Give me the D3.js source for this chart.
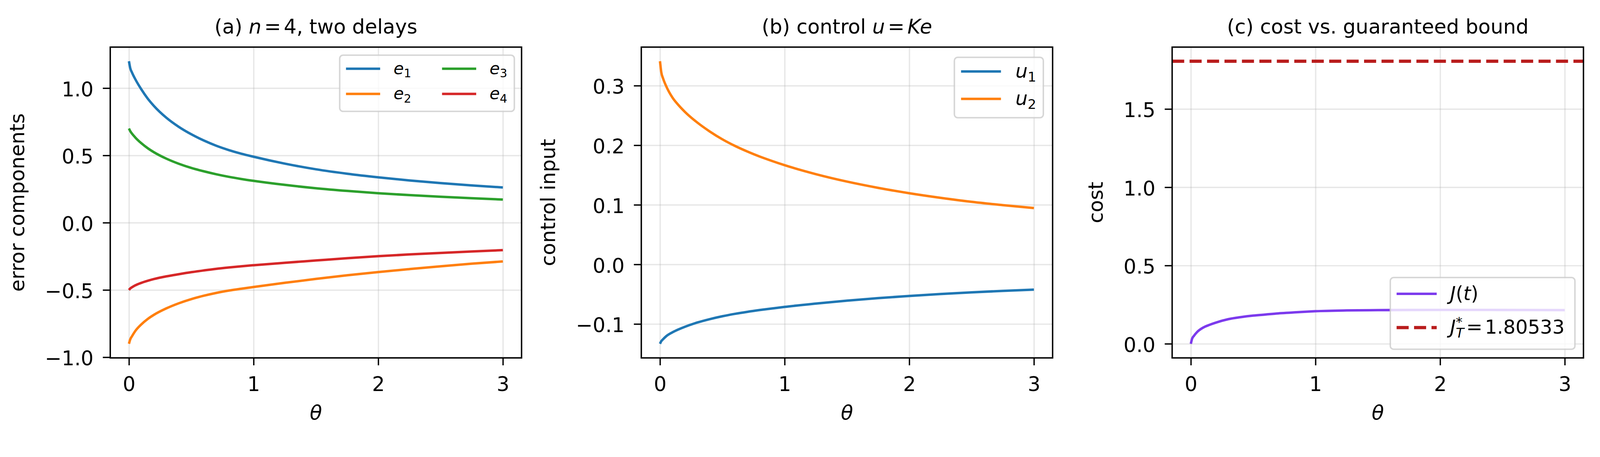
<!DOCTYPE html>
<html>
<head>
<meta charset="utf-8">
<script src="https://cdn.jsdelivr.net/npm/d3@7"></script>
<style>
  html, body { margin: 0; padding: 0; background: #ffffff; overflow: hidden; }
  #chart svg { display: block; width: 100vw; height: calc(100vw * 1171 / 4310); }
  svg text { font-family: 'DejaVu Sans', sans-serif; }
</style>
</head>
<body>
<div id="chart"></div>
<script>
// Data
var theta = [0, 0.01, 0.025, 0.05, 0.1, 0.15, 0.2, 0.3, 0.4, 0.5, 0.6, 0.7, 0.8, 0.9, 1.0, 1.25, 1.5, 1.75, 2.0, 2.25, 2.5, 2.75, 3.0];

var e1 = [1.200, 1.150, 1.115, 1.068, 0.990, 0.923, 0.868, 0.780, 0.712, 0.657, 0.611, 0.572, 0.540, 0.513, 0.490, 0.439, 0.397, 0.364, 0.337, 0.314, 0.294, 0.277, 0.262];
var e2 = [-0.900, -0.868, -0.843, -0.806, -0.755, -0.716, -0.685, -0.637, -0.599, -0.568, -0.543, -0.522, -0.505, -0.491, -0.478, -0.447, -0.418, -0.391, -0.367, -0.345, -0.324, -0.305, -0.288];
var e3 = [0.700, 0.681, 0.661, 0.634, 0.590, 0.554, 0.524, 0.476, 0.438, 0.407, 0.382, 0.360, 0.341, 0.325, 0.311, 0.281, 0.256, 0.236, 0.219, 0.205, 0.193, 0.182, 0.172];
var e4 = [-0.500, -0.489, -0.4795, -0.466, -0.447, -0.432, -0.419, -0.399, -0.383, -0.368, -0.355, -0.343, -0.333, -0.324, -0.316, -0.298, -0.281, -0.264, -0.249, -0.236, -0.225, -0.214, -0.204];

var u1 = [-0.1332, -0.1290, -0.1255, -0.1205, -0.1140, -0.1090, -0.1047, -0.0975, -0.0918, -0.0870, -0.0830, -0.0796, -0.0766, -0.0739, -0.0713, -0.0658, -0.0609, -0.0566, -0.0529, -0.0497, -0.0469, -0.0444, -0.0423];
var u2 = [0.341, 0.323, 0.312, 0.299, 0.280, 0.267, 0.256, 0.238, 0.223, 0.210, 0.199, 0.1895, 0.181, 0.1735, 0.1665, 0.1515, 0.139, 0.1285, 0.1195, 0.1118, 0.105, 0.0995, 0.0945];

var J = [0, 0.032, 0.051, 0.075, 0.104, 0.121, 0.135, 0.157, 0.170, 0.180, 0.187, 0.194, 0.199, 0.204, 0.208, 0.213, 0.215, 0.216, 0.2165, 0.2165, 0.216, 0.2155, 0.215];
var J_star = 1.80533;

var x_ticks = [0, 1, 2, 3];
var y_ticks_a = [-1.0, -0.5, 0.0, 0.5, 1.0];
var y_ticks_b = [-0.1, 0.0, 0.1, 0.2, 0.3];
var y_ticks_c = [0.0, 0.5, 1.0, 1.5];

// Layout
var chart_width = 4310;
var chart_height = 1171;
var plot_top = 127;
var plot_h = 838;
var plot_w = 1108;
var plot_left = [297, 1727.5, 3157.5];
var font_size = 54;
var line_w = 6.6;
var x_domain = [-0.15, 3.15];

var c_blue = '#1f77b4', c_orange = '#ff7f0e', c_green = '#2ca02c', c_red = '#d62728';
var c_purple = '#7c3aed', c_bound = '#b91c1c';

// rich text: parts of plain / italic / sub / sup
function rich(sel, parts, fs) {
    var shift = 0;
    parts.forEach(function (p) {
        var target = p.sub ? 0.2 * fs : (p.sup ? -0.36 * fs : 0);
        var ts = sel.append('tspan')
            .text(p.t)
            .attr('dy', target - shift)
            .attr('font-size', (p.sub || p.sup) ? 0.7 * fs : fs)
            .attr('font-style', p.it ? 'italic' : 'normal');
        if (p.dx) ts.attr('dx', p.dx * fs);
        shift = target;
    });
}

var panels = [
    {
        title: [{t: '(a) '}, {t: 'n', it: true}, {t: '=', dx: 0.14}, {t: '4', dx: 0.14}, {t: ', two delays'}],
        ylabel: 'error components',
        y_ticks: y_ticks_a,
        series: [
            {values: e1, color: c_blue, label: [{t: 'e', it: true}, {t: '1', sub: true}]},
            {values: e2, color: c_orange, label: [{t: 'e', it: true}, {t: '2', sub: true}]},
            {values: e3, color: c_green, label: [{t: 'e', it: true}, {t: '3', sub: true}]},
            {values: e4, color: c_red, label: [{t: 'e', it: true}, {t: '4', sub: true}]}
        ],
        legend: {fs: 45, ncol: 2, loc: 'upper', gap_r: 19.5, gap_v: 21.75, pad: 17, rpad: 19,
                 handle: 92, textpad: 36, colsp: 83, first: 36.5, pitch: 68, last: 47}
    },
    {
        title: [{t: '(b) control '}, {t: 'u', it: true}, {t: '=', dx: 0.14}, {t: 'Ke', it: true, dx: 0.14}],
        ylabel: 'control input',
        y_ticks: y_ticks_b,
        series: [
            {values: u1, color: c_blue, label: [{t: 'u', it: true}, {t: '1', sub: true}]},
            {values: u2, color: c_orange, label: [{t: 'u', it: true}, {t: '2', sub: true}]}
        ],
        legend: {fs: 52, ncol: 1, loc: 'upper', gap_r: 25, gap_v: 27.6, pad: 18, rpad: 19,
                 handle: 107.5, textpad: 39, colsp: 0, first: 38.1, pitch: 74, last: 50.7}
    },
    {
        title: [{t: '(c) cost vs. guaranteed bound'}],
        ylabel: 'cost',
        y_ticks: y_ticks_c,
        series: [
            {values: J, color: c_purple, label: [{t: 'J', it: true}, {t: '('}, {t: 't', it: true}, {t: ')'}]}
        ],
        hline: {value: J_star, color: c_bound,
                label: [{t: 'J', it: true}, {t: '*', sup: true}, {t: 'T', it: true, sub: true, dx: -0.35},
                        {t: '=', dx: 0.12}, {t: '1.80533', dx: 0.12}]},
        legend: {fs: 52, ncol: 1, loc: 'lower', gap_r: 23, gap_v: 23.3, pad: 17, rpad: 22,
                 handle: 108, textpad: 36, colsp: 0, first: 44, pitch: 91, last: 58.4}
    }
];

// SVG Element, scaled to the window width
var svg = d3.select('#chart')
    .append('svg')
    .attr('viewBox', '0 0 ' + chart_width + ' ' + chart_height)
    .attr('preserveAspectRatio', 'xMinYMin meet');

svg.append('rect')
    .attr('width', chart_width)
    .attr('height', chart_height)
    .attr('fill', '#ffffff');

panels.forEach(function (p, k) {
    var g = svg.append('g')
        .attr('transform', 'translate(' + plot_left[k] + ',' + plot_top + ')');

    // scales, 5% margin like matplotlib
    var all = [];
    p.series.forEach(function (s) { all = all.concat(s.values); });
    if (p.hline) all.push(p.hline.value);
    var lo = d3.min(all), hi = d3.max(all), m = 0.05 * (hi - lo);

    var x_scale = d3.scaleLinear().domain(x_domain).range([0, plot_w]);
    var y_scale = d3.scaleLinear().domain([lo - m, hi + m]).range([plot_h, 0]);

    // grid
    var gx = g.append('g')
        .call(d3.axisBottom(x_scale).tickValues(x_ticks).tickSize(plot_h).tickFormat(''));
    var gy = g.append('g')
        .call(d3.axisLeft(y_scale).tickValues(p.y_ticks).tickSize(-plot_w).tickFormat(''));
    [gx, gy].forEach(function (a) {
        a.select('.domain').remove();
        a.selectAll('line').attr('stroke', '#b0b0b0').attr('stroke-opacity', 0.3).attr('stroke-width', 3.6);
    });

    // lines
    var line = d3.line()
        .x(function (d, i) { return x_scale(theta[i]); })
        .y(function (d) { return y_scale(d); })
        .curve(d3.curveMonotoneX);

    p.series.forEach(function (s) {
        g.append('path')
            .attr('d', line(s.values))
            .attr('fill', 'none')
            .attr('stroke', s.color)
            .attr('stroke-width', line_w);
    });

    if (p.hline) {
        g.append('line')
            .attr('x1', 0)
            .attr('x2', plot_w)
            .attr('y1', y_scale(p.hline.value))
            .attr('y2', y_scale(p.hline.value))
            .attr('stroke', p.hline.color)
            .attr('stroke-width', 8.8)
            .attr('stroke-dasharray', '32.5,14.5');
    }

    // axes
    var ax = g.append('g')
        .attr('transform', 'translate(0,' + plot_h + ')')
        .call(d3.axisBottom(x_scale).tickValues(x_ticks).tickFormat(d3.format('d')).tickSize(20).tickPadding(31));
    var ay = g.append('g')
        .call(d3.axisLeft(y_scale).tickValues(p.y_ticks).tickFormat(d3.format('.1f')).tickSize(20).tickPadding(25));
    [ax, ay].forEach(function (a) {
        a.attr('font-size', font_size).attr('font-family', 'DejaVu Sans');
        a.select('.domain').remove();
        a.selectAll('line').attr('stroke', '#000').attr('stroke-width', 3.6);
        a.selectAll('text').attr('fill', '#000');
    });
    ay.selectAll('text').attr('dy', '0.40em');

    // spines
    g.append('rect')
        .attr('width', plot_w)
        .attr('height', plot_h)
        .attr('fill', 'none')
        .attr('stroke', '#000')
        .attr('stroke-width', 3.8);

    // title
    var title = g.append('text')
        .attr('x', plot_w / 2)
        .attr('y', 90 - plot_top)
        .attr('text-anchor', 'middle')
        .attr('font-size', font_size);
    rich(title, p.title, font_size);

    // x label
    g.append('text')
        .attr('x', plot_w / 2)
        .attr('y', 1131 - plot_top)
        .attr('text-anchor', 'middle')
        .attr('font-size', font_size)
        .attr('font-style', 'italic')
        .text('θ');

    // y label, placed left of the tick labels
    var tick_left = d3.min(ay.selectAll('text').nodes(), function (n) { return n.getBBox().x; });
    var lx = tick_left - 20 - 36;
    g.append('text')
        .attr('transform', 'translate(' + lx + ',' + (plot_h / 2) + ') rotate(-90)')
        .attr('text-anchor', 'middle')
        .attr('font-size', font_size)
        .text(p.ylabel);

    // legend
    var L = p.legend;
    var items = p.series.map(function (s) { return {label: s.label, color: s.color, dash: null, w: line_w}; });
    if (p.hline) items.push({label: p.hline.label, color: p.hline.color, dash: '32.5,14.5', w: 8.8});
    var rows = Math.ceil(items.length / L.ncol);
    var lg = g.append('g');
    var box = lg.append('rect');
    var texts = items.map(function (it) {
        var t = lg.append('text').attr('font-size', L.fs);
        rich(t, it.label, L.fs);
        return t;
    });
    var col_w = [];
    items.forEach(function (it, i) {
        var c = Math.floor(i / rows);
        var w = texts[i].node().getComputedTextLength();
        col_w[c] = Math.max(col_w[c] || 0, w);
    });
    var box_w = L.pad + L.rpad;
    col_w.forEach(function (w, c) { box_w += L.handle + L.textpad + w + (c > 0 ? L.colsp : 0); });
    var box_h = L.first + (rows - 1) * L.pitch + L.last;
    var bx = plot_w - L.gap_r - box_w;
    var by = L.loc === 'upper' ? L.gap_v : plot_h - L.gap_v - box_h;

    box.attr('x', bx).attr('y', by)
        .attr('width', box_w).attr('height', box_h)
        .attr('rx', 9)
        .attr('fill', '#ffffff').attr('fill-opacity', 0.8)
        .attr('stroke', '#cccccc').attr('stroke-opacity', 0.8).attr('stroke-width', 4);

    items.forEach(function (it, i) {
        var c = Math.floor(i / rows), r = i % rows;
        var x0 = bx + L.pad;
        for (var j = 0; j < c; j++) x0 += L.handle + L.textpad + col_w[j] + L.colsp;
        var yc = by + L.first + r * L.pitch;
        var hl = lg.append('line')
            .attr('x1', x0).attr('x2', x0 + L.handle)
            .attr('y1', yc).attr('y2', yc)
            .attr('stroke', it.color)
            .attr('stroke-width', it.w);
        if (it.dash) hl.attr('stroke-dasharray', it.dash);
        texts[i].attr('x', x0 + L.handle + L.textpad).attr('y', yc + 0.32 * L.fs);
    });
});
</script>
</body>
</html>
